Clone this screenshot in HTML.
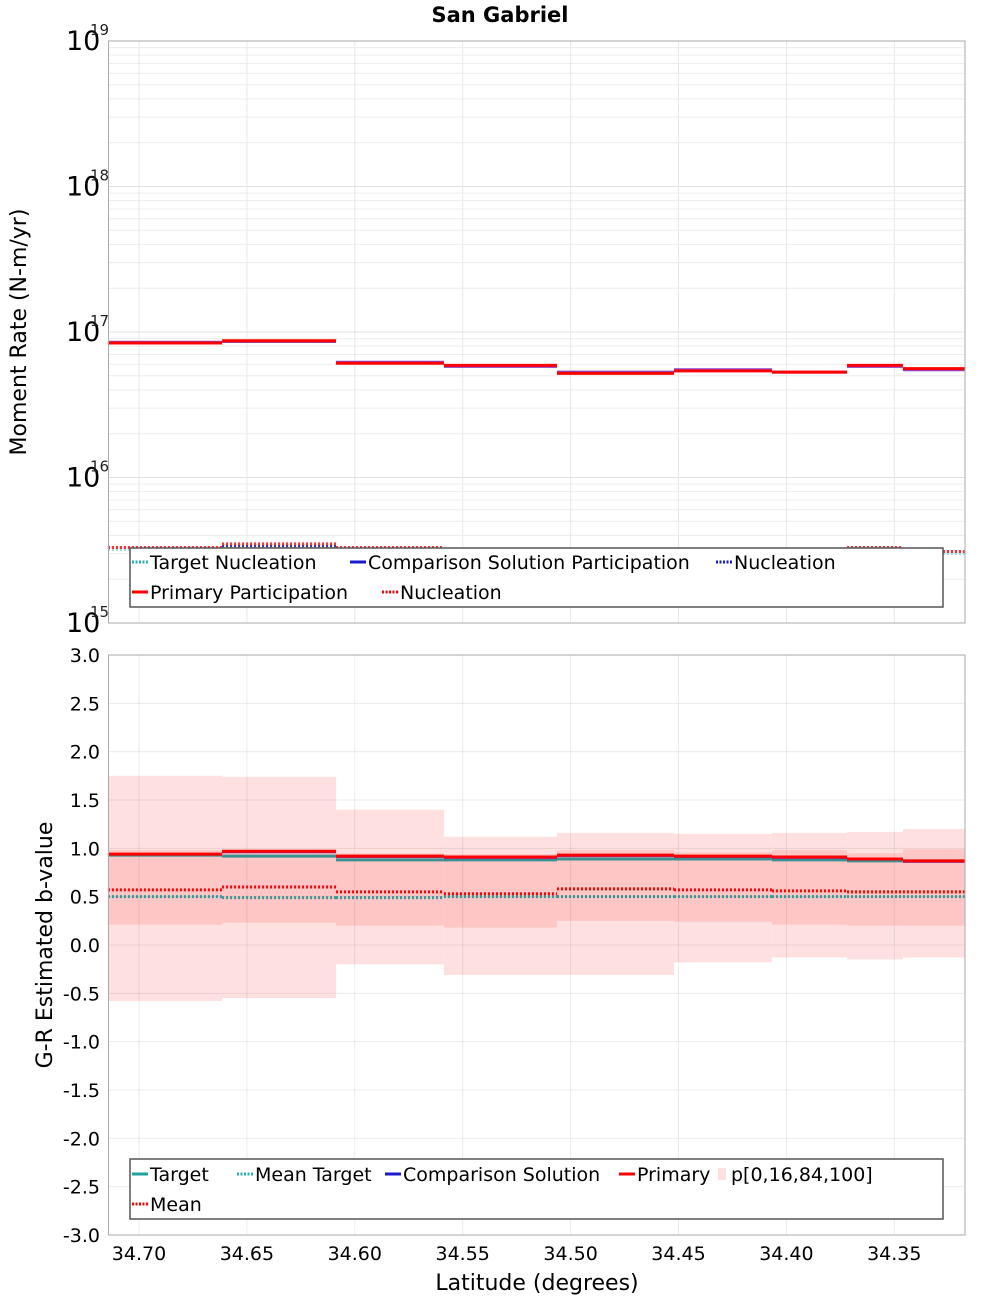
<!DOCTYPE html>
<html><head><meta charset="utf-8"><style>
body{margin:0;background:#fff}
svg{display:block;font-family:"DejaVu Sans","Liberation Sans",sans-serif}
</style></head><body>
<svg id="chart" width="1000" height="1300" viewBox="0 0 1000 1300" xmlns="http://www.w3.org/2000/svg">
<text x="500" y="22" text-anchor="middle" font-size="21" font-weight="bold">San Gabriel</text>
<g id="topPanel"></g><g id="botPanel"></g>
</svg>
<script>
const edges=[34.7144,34.6615,34.6087,34.5587,34.5063,34.4521,34.4067,34.3719,34.346,34.3171];
const primaryPart=[8.4e16,8.7e16,6.1e16,5.9e16,5.2e16,5.4e16,5.3e16,5.9e16,5.6e16];
const compPart=[8.5e16,8.6e16,6.2e16,5.8e16,5.3e16,5.5e16,5.3e16,5.8e16,5.5e16];
const primaryNuc=[3.3e15,3.5e15,3.3e15,3.2e15,3.1e15,3.2e15,3.1e15,3.3e15,3.1e15];
const compNuc=[3.3e15,3.4e15,3.3e15,3.2e15,3.1e15,3.2e15,3.1e15,3.3e15,3.1e15];
const targetNuc=[3.2e15,3.3e15,3.1e15,3.0e15,3.0e15,3.0e15,3.0e15,3.0e15,3.0e15];
const bPrimary=[0.94,0.97,0.92,0.91,0.93,0.92,0.91,0.89,0.87];
const bComp=[0.94,0.96,0.91,0.90,0.92,0.91,0.90,0.89,0.86];
const bTarget=[0.93,0.92,0.88,0.88,0.89,0.89,0.88,0.87,0.87];
const bMean=[0.57,0.60,0.55,0.53,0.58,0.57,0.56,0.55,0.55];
const bMeanTarget=[0.50,0.49,0.49,0.50,0.50,0.50,0.50,0.50,0.50];
const p0=[-0.58,-0.55,-0.20,-0.31,-0.31,-0.18,-0.13,-0.15,-0.13];
const p16=[0.21,0.23,0.20,0.18,0.25,0.24,0.21,0.20,0.20];
const p84=[0.98,0.98,0.95,0.94,0.98,0.96,0.98,0.95,0.99];
const p100=[1.75,1.74,1.40,1.12,1.16,1.15,1.16,1.17,1.20];
const xTicks=[34.70,34.65,34.60,34.55,34.50,34.45,34.40,34.35];
const bTicks=[3.0,2.5,2.0,1.5,1.0,0.5,0.0,-0.5,-1.0,-1.5,-2.0,-2.5,-3.0];
const logTicks=[19,18,17,16,15];

const NS="http://www.w3.org/2000/svg";
const L=108.5,R=965;
const x=v=>139+(34.70-v)/0.05*107.9;
const T1=41,B1=623;
const yLog=v=>T1+(19-Math.log10(v))*(B1-T1)/4;
const T2=655,B2=1235;
const yB=v=>T2+(3-v)*(B2-T2)/6;
function mk(p,tag,a,txt){const e=document.createElementNS(NS,tag);for(const k in a)e.setAttribute(k,a[k]);if(txt!=null)e.textContent=txt;p.appendChild(e);return e;}
const gTop=document.getElementById('topPanel'),gBot=document.getElementById('botPanel');
let e;

e=mk(gTop,'rect',{x:L,y:T1,width:R-L,height:B1-T1,fill:'#fff'});


for(let d=15;d<19;d++)for(let m=1;m<10;m++){const yy=yLog(m*Math.pow(10,d));mk(gTop,'line',{x1:L,x2:R,y1:yy,y2:yy,stroke:m==1?'#e0e0e0':'#ececec','stroke-width':1});}
xTicks.forEach(t=>{mk(gTop,'line',{x1:x(t),x2:x(t),y1:T1,y2:B1,stroke:'#e8e8e8'});});
logTicks.forEach(p=>{const yy=yLog(Math.pow(10,p));
e=mk(gTop,'text',{x:66,y:yy+9,'font-size':27},'10');


mk(gTop,'text',{x:90,y:yy-6,'font-size':15,fill:'#222'},String(p));});
function steps(p,arr,ys,col,w,dash,name){for(let i=0;i<arr.length;i++){const l=mk(p,'line',{x1:x(edges[i]),x2:x(edges[i+1]),y1:ys(arr[i]),y2:ys(arr[i]),stroke:col,'stroke-width':w});if(dash)l.setAttribute('stroke-dasharray',dash);

}}
steps(gTop,targetNuc,yLog,'#9fdcdc',3,'2,2','target-nucleation');
steps(gTop,compPart,yLog,'#8844cc',3,null,'comparison-participation');
steps(gTop,compNuc,yLog,'#2222cc',3,'2,2','comparison-nucleation');
steps(gTop,primaryPart,yLog,'#ff0000',3,null,'primary-participation');
steps(gTop,primaryNuc,yLog,'#ff3030',3,'2,2','primary-nucleation');
mk(gTop,'rect',{x:L,y:T1,width:R-L,height:B1-T1,fill:'none',stroke:'#aaa'});
e=mk(gTop,'text',{x:0,y:0,'font-size':22,transform:'translate(26,332) rotate(-90)','text-anchor':'middle'},'Moment Rate (N-m/yr)');


const lg1=mk(gTop,'g',{});


mk(lg1,'rect',{x:130,y:548,width:813,height:59,fill:'#fff',stroke:'#555','stroke-width':1.5});
function li(g,x0,y0,col,dash,label,name){const l=mk(g,'line',{x1:x0,x2:x0+16,y1:y0,y2:y0,stroke:col,'stroke-width':3});if(dash)l.setAttribute('stroke-dasharray',dash);const t=mk(g,'text',{x:x0+18,y:y0+7,'font-size':19},label);}
li(lg1,132,562,'#2ab0b0','2,1.5','Target Nucleation','legend-target-nucleation');
li(lg1,350,562,'#1a1acc',null,'Comparison Solution Participation','legend-comparison-participation');
li(lg1,716,562,'#1a1acc','2,1.5','Nucleation','legend-comparison-nucleation');
li(lg1,132,592,'#ff0000',null,'Primary Participation','legend-primary-participation');
li(lg1,382,592,'#ff0000','2,1.5','Nucleation','legend-primary-nucleation');

e=mk(gBot,'rect',{x:L,y:T2,width:R-L,height:B2-T2,fill:'#fff'});


for(let i=0;i<9;i++){const x1=x(edges[i]),x2=x(edges[i+1]);
e=mk(gBot,'rect',{x:x1,y:yB(p100[i]),width:x2-x1,height:yB(p0[i])-yB(p100[i]),fill:'#ffe0e0'});


e=mk(gBot,'rect',{x:x1,y:yB(p84[i]),width:x2-x1,height:yB(p16[i])-yB(p84[i]),fill:'#ffc6c6'});

}
bTicks.forEach(t=>{mk(gBot,'line',{x1:L,x2:R,y1:yB(t),y2:yB(t),stroke:'rgba(0,0,0,0.08)'});
e=mk(gBot,'text',{x:100,y:yB(t)+7,'font-size':19,'text-anchor':'end'},t.toFixed(1));

});
xTicks.forEach(t=>{mk(gBot,'line',{x1:x(t),x2:x(t),y1:T2,y2:B2,stroke:'rgba(0,0,0,0.08)'});
e=mk(gBot,'text',{x:x(t),y:1260,'font-size':19,'text-anchor':'middle'},t.toFixed(2));

});
steps(gBot,bMeanTarget,yB,'#2a9a9a',3,'2,2','mean-target');
steps(gBot,bMean,yB,'#ff0000',3,'2,2','mean');
steps(gBot,bTarget,yB,'#3a9090',3,null,'target');
steps(gBot,bComp,yB,'#7733aa',2,null,'comparison-solution');
steps(gBot,bPrimary,yB,'#ff0000',3,null,'primary');
mk(gBot,'rect',{x:L,y:T2,width:R-L,height:B2-T2,fill:'none',stroke:'#aaa'});
e=mk(gBot,'text',{x:0,y:0,'font-size':22,transform:'translate(52,945) rotate(-90)','text-anchor':'middle'},'G-R Estimated b-value');


e=mk(gBot,'text',{x:537,y:1290,'font-size':22,'text-anchor':'middle'},'Latitude (degrees)');


const lg2=mk(gBot,'g',{});


mk(lg2,'rect',{x:130,y:1159,width:813,height:60,fill:'#fff',stroke:'#555','stroke-width':1.5});
li(lg2,132,1174,'#20a0a0',null,'Target','legend-target');
li(lg2,237,1174,'#2ab0b0','2,1.5','Mean Target','legend-mean-target');
li(lg2,385,1174,'#1a1acc',null,'Comparison Solution','legend-comparison-solution');
li(lg2,619,1174,'#ff0000',null,'Primary','legend-primary');
mk(lg2,'rect',{x:718,y:1168,width:8,height:12,fill:'#ffe0e0'});
e=mk(lg2,'text',{x:731,y:1181,'font-size':19},'p[0,16,84,100]');


li(lg2,132,1204,'#ff0000','2,1.5','Mean','legend-mean');
</script>
</body></html>
